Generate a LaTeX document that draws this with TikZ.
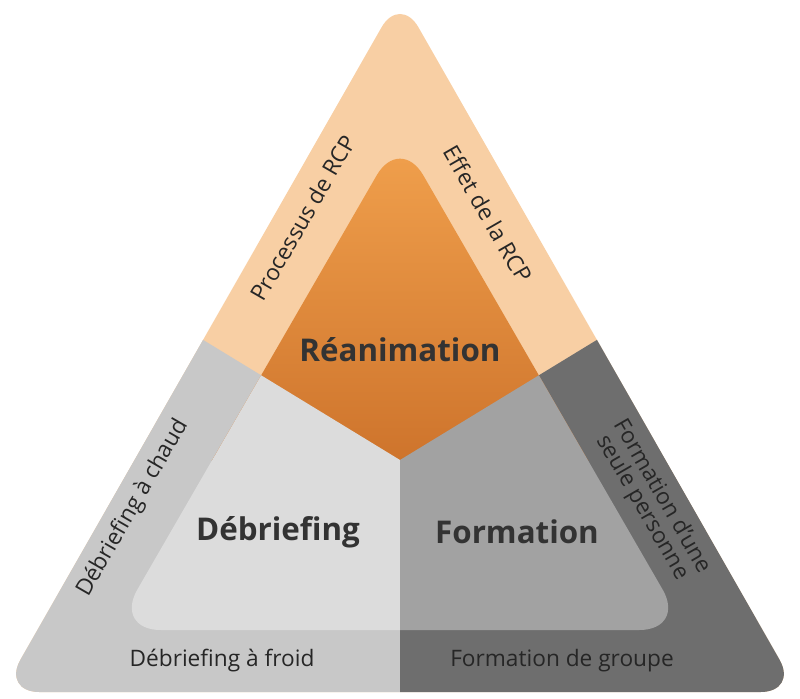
\documentclass[tikz,border=0pt]{standalone}
\usepackage{fontspec}
\setmainfont{Open Sans}
\begin{document}
\begin{tikzpicture}[x=0.75pt,y=-0.75pt,
  side/.style={font=\fontsize{17}{19}\selectfont,text=black!85,align=center},
  big/.style={font=\bfseries\fontsize{23.5}{25}\selectfont,text=black!80}]
\definecolor{peach}{HTML}{F8CFA4}
\definecolor{lgray}{HTML}{C8C8C8}
\definecolor{dgray}{HTML}{6E6E6E}
\definecolor{ilgray}{HTML}{DCDCDC}
\definecolor{imgray}{HTML}{A2A2A2}
\useasboundingbox (0,0) rectangle (800,699);
\begin{scope}
\clip[rounded corners=28] (400,-5) -- (798,692) -- (2,692) -- cycle;
\fill[peach] (0,0) rectangle (800,699);
\fill[lgray] (0,338) -- (200,338) -- (400,460) -- (400,699) -- (0,699) -- cycle;
\fill[dgray] (800,338) -- (600,338) -- (400,460) -- (400,699) -- (800,699) -- cycle;
\end{scope}
\begin{scope}
\clip[rounded corners=35] (400,135) -- (686,630) -- (114,630) -- cycle;
\shade[top color={rgb,255:red,242;green,162;blue,78}, bottom color={rgb,255:red,206;green,116;blue,44}] (200,130) rectangle (600,460);
\fill[ilgray] (0,338) -- (200,338) -- (400,460) -- (400,699) -- (0,699) -- cycle;
\fill[imgray] (800,338) -- (600,338) -- (400,460) -- (400,699) -- (800,699) -- cycle;
\end{scope}
\node[side,rotate=60] (p) at (303,218) {Processus de RCP};
\node[side,rotate=-60] (e) at (488,214) {Effet de la RCP};
\node[side,rotate=60] (dc) at (133,508) {Débriefing à chaud};
\node[side,rotate=-60] (fs) at (652,502) {Formation d'une\\[-2pt]seule personne};
\node[side] (df) at (222,661) {Débriefing à froid};
\node[side] (fg) at (562,661) {Formation de groupe};
\node[big] (r) at (400,350) {Réanimation};
\node[big] (d) at (278,532) {Débriefing};
\node[big] (f) at (517,532) {Formation};
\end{tikzpicture}
\end{document}
